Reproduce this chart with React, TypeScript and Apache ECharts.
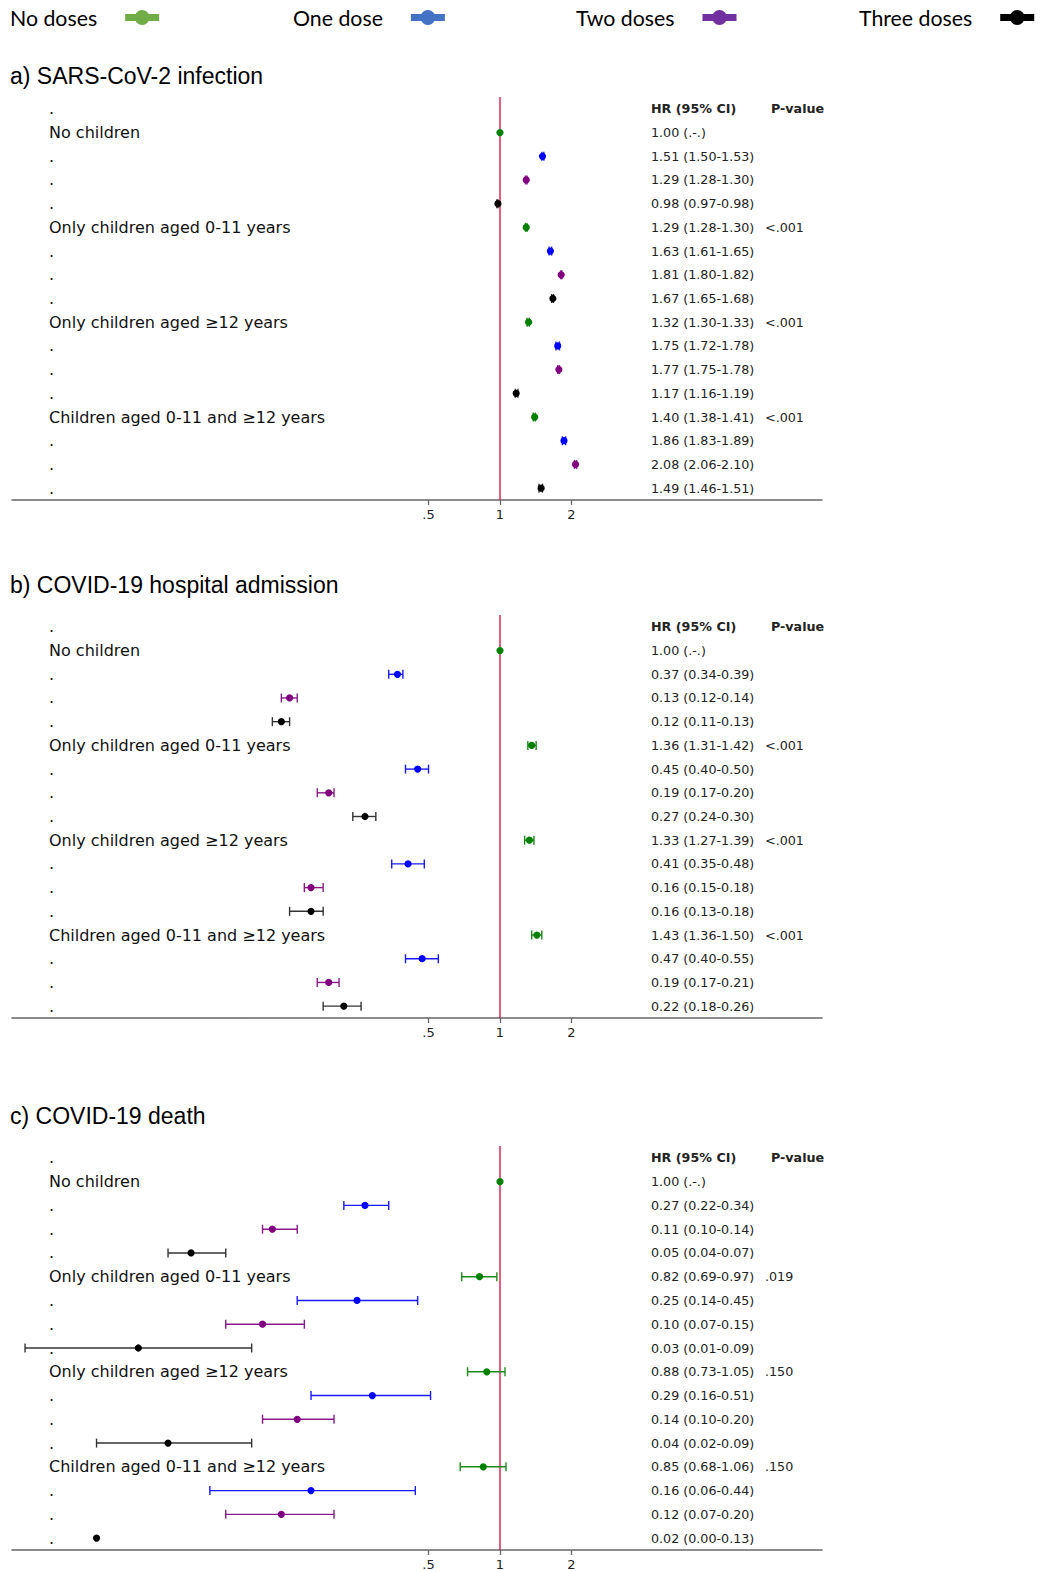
import { useEffect, useRef } from 'react';
import * as echarts from 'echarts';

// ---------- data ----------
const doseNames = ['No doses', 'One dose', 'Two doses', 'Three doses'];
const legendColors = ['#70ad47', '#4472c4', '#7030a0', '#000000'];
const markerColors = ['#008000', '#0000ff', '#800080', '#000000'];
const whiskerColors = ['#1a8a1a', '#1a1aff', '#8a1a8a', '#333333'];
const groupLabels = [
  'No children',
  'Only children aged 0-11 years',
  'Only children aged ≥12 years',
  'Children aged 0-11 and ≥12 years',
];
const panelTitles = ['a) SARS-CoV-2 infection', 'b) COVID-19 hospital admission', 'c) COVID-19 death'];
const xTickValues = [0.5, 1, 2];
const xTickLabels = ['.5', '1', '2'];
const referenceHR = 1;

// order: group-major (4 groups), dose-minor (4 doses)
const infectionHR = [1.0, 1.51, 1.29, 0.98, 1.29, 1.63, 1.81, 1.67, 1.32, 1.75, 1.77, 1.17, 1.4, 1.86, 2.08, 1.49];
const infectionLo = [null, 1.5, 1.28, 0.97, 1.28, 1.61, 1.8, 1.65, 1.3, 1.72, 1.75, 1.16, 1.38, 1.83, 2.06, 1.46];
const infectionHi = [null, 1.53, 1.3, 0.98, 1.3, 1.65, 1.82, 1.68, 1.33, 1.78, 1.78, 1.19, 1.41, 1.89, 2.1, 1.51];
const infectionP = ['', '<.001', '<.001', '<.001'];

const hospitalHR = [1.0, 0.37, 0.13, 0.12, 1.36, 0.45, 0.19, 0.27, 1.33, 0.41, 0.16, 0.16, 1.43, 0.47, 0.19, 0.22];
const hospitalLo = [null, 0.34, 0.12, 0.11, 1.31, 0.4, 0.17, 0.24, 1.27, 0.35, 0.15, 0.13, 1.36, 0.4, 0.17, 0.18];
const hospitalHi = [null, 0.39, 0.14, 0.13, 1.42, 0.5, 0.2, 0.3, 1.39, 0.48, 0.18, 0.18, 1.5, 0.55, 0.21, 0.26];
const hospitalP = ['', '<.001', '<.001', '<.001'];

const deathHR = [1.0, 0.27, 0.11, 0.05, 0.82, 0.25, 0.1, 0.03, 0.88, 0.29, 0.14, 0.04, 0.85, 0.16, 0.12, 0.02];
const deathLo = [null, 0.22, 0.1, 0.04, 0.69, 0.14, 0.07, 0.01, 0.73, 0.16, 0.1, 0.02, 0.68, 0.06, 0.07, 0.0];
const deathHi = [null, 0.34, 0.14, 0.07, 0.97, 0.45, 0.15, 0.09, 1.05, 0.51, 0.2, 0.09, 1.06, 0.44, 0.2, 0.13];
const deathP = ['', '.019', '.150', '.150'];

const panels = [
  { hr: infectionHR, lo: infectionLo, hi: infectionHi, p: infectionP },
  { hr: hospitalHR, lo: hospitalLo, hi: hospitalHi, p: hospitalP },
  { hr: deathHR, lo: deathLo, hi: deathHi, p: deathP },
];

// ---------- layout ----------
const W = 1048;
const H = 1571;
const gridLeft = 12;
const gridWidth = 810;
const gridTops = [97, 615, 1146];
const gridHeights = [403, 403, 404];
const titleTops = [64, 573, 1104];
const legendLefts = [10, 293, 576, 859];
const xMin = 0.00881;
const xMax = 22.7;

const rowFont = 'DejaVu Sans';

const legendIcon =
  'path://M0,4 L34,4 L34,11 L0,11 Z M9.5,7.5 A7.5,7.5 0 1 1 24.5,7.5 A7.5,7.5 0 1 1 9.5,7.5 Z';

function fmt(v: number | null) {
  return v === null ? '.' : v.toFixed(2);
}

function makeRenderer(dot: string, whisker: string) {
  return (_params: any, api: any) => {
    const lo = api.value(0);
    const hi = api.value(1);
    const hr = api.value(2);
    const row = api.value(3);
    const c = api.coord([hr, row]);
    const children: any[] = [];
    if (lo > 0 && hi > 0) {
      const a = api.coord([lo, row]);
      const b = api.coord([hi, row]);
      const cap = 4.5;
      const st = { stroke: whisker, lineWidth: 1.4 };
      children.push({ type: 'line', shape: { x1: a[0], y1: c[1], x2: b[0], y2: c[1] }, style: st });
      children.push({ type: 'line', shape: { x1: a[0], y1: c[1] - cap, x2: a[0], y2: c[1] + cap }, style: st });
      children.push({ type: 'line', shape: { x1: b[0], y1: c[1] - cap, x2: b[0], y2: c[1] + cap }, style: st });
    }
    children.push({ type: 'circle', shape: { cx: c[0], cy: c[1], r: 3.6 }, style: { fill: dot } });
    return { type: 'group', children };
  };
}

function renderReference(params: any, api: any) {
  const pt = api.coord([api.value(0), api.value(1)]);
  const cs = params.coordSys;
  return {
    type: 'line',
    shape: { x1: pt[0], y1: cs.y, x2: pt[0], y2: cs.y + cs.height },
    style: { stroke: '#d81b4a', lineWidth: 1.4 },
  };
}

function buildOption() {
  const grid: any[] = [];
  const xAxis: any[] = [];
  const yAxis: any[] = [];
  const series: any[] = [];
  const title: any[] = [];

  panels.forEach((pan, pi) => {
    grid.push({ left: gridLeft, width: gridWidth, top: gridTops[pi], height: gridHeights[pi] });
    title.push({
      text: panelTitles[pi],
      left: 10,
      top: titleTops[pi],
      padding: 0,
      textStyle: { fontFamily: 'Liberation Sans', fontSize: 23, fontWeight: 'normal', color: '#000' },
    });
    xAxis.push({
      type: 'log',
      logBase: 2,
      gridIndex: pi,
      min: xMin,
      max: xMax,
      axisLine: { show: true, lineStyle: { color: '#666', width: 1.5 } },
      axisTick: { show: true, length: 5, customValues: xTickValues, lineStyle: { color: '#666', width: 1.3 } },
      axisLabel: {
        customValues: xTickValues,
        formatter: (v: number) => {
          const i = xTickValues.findIndex((t) => Math.abs(t - v) < 1e-9);
          return i >= 0 ? xTickLabels[i] : '';
        },
        fontFamily: rowFont,
        fontSize: 13,
        color: '#222',
        margin: 8,
      },
      splitLine: { show: false },
      minorTick: { show: false },
    });

    const leftLabels: string[] = ['.'];
    const hrLabels: any[] = [{ value: 'HR (95% CI)', textStyle: { fontWeight: 'bold' } }];
    const pLabels: any[] = [{ value: 'P-value', textStyle: { fontWeight: 'bold', padding: [0, 0, 0, 6] } }];
    for (let g = 0; g < 4; g++) {
      for (let d = 0; d < 4; d++) {
        const i = g * 4 + d;
        leftLabels.push(d === 0 ? groupLabels[g] : '.');
        const lo = pan.lo[i];
        const hi = pan.hi[i];
        hrLabels.push(
          lo === null || hi === null ? `${fmt(pan.hr[i])} (.-.)` : `${fmt(pan.hr[i])} (${fmt(lo)}-${fmt(hi)})`
        );
        pLabels.push(d === 0 ? pan.p[g] : ' ');
      }
    }
    const baseY = {
      type: 'category',
      gridIndex: pi,
      inverse: true,
      boundaryGap: true,
      axisLine: { show: false },
      axisTick: { show: false },
      splitLine: { show: false },
    };
    const leftIdx = yAxis.length;
    yAxis.push({
      ...baseY,
      position: 'left',
      data: leftLabels,
      axisLabel: {
        inside: true,
        margin: 37,
        interval: 0,
        fontFamily: rowFont,
        fontSize: 16,
        color: '#111',
        align: 'left',
      },
    });
    yAxis.push({
      ...baseY,
      position: 'right',
      offset: -171,
      data: hrLabels,
      axisLabel: { margin: 0, interval: 0, fontFamily: rowFont, fontSize: 12.7, color: '#222', align: 'left' },
    });
    yAxis.push({
      ...baseY,
      position: 'right',
      offset: -57,
      data: pLabels,
      axisLabel: { margin: 0, interval: 0, fontFamily: rowFont, fontSize: 12.7, color: '#222', align: 'left' },
    });

    series.push({
      type: 'custom',
      name: 'reference',
      xAxisIndex: pi,
      yAxisIndex: leftIdx,
      encode: { x: 0, y: 1 },
      renderItem: renderReference,
      data: [[referenceHR, 0]],
      z: 1,
      silent: true,
    });

    for (let d = 0; d < 4; d++) {
      const data: any[] = [];
      for (let g = 0; g < 4; g++) {
        const i = g * 4 + d;
        data.push([
          pan.lo[i] === null ? '-' : pan.lo[i],
          pan.hi[i] === null ? '-' : pan.hi[i],
          pan.hr[i],
          1 + g * 4 + d,
        ]);
      }
      series.push({
        type: 'custom',
        name: doseNames[d],
        xAxisIndex: pi,
        yAxisIndex: leftIdx,
        encode: { x: 2, y: 3 },
        itemStyle: { color: markerColors[d] },
        renderItem: makeRenderer(markerColors[d], whiskerColors[d]),
        data,
        z: 3,
      });
    }
  });

  const legend = doseNames.map((name, d) => ({
    left: legendLefts[d],
    top: 7,
    align: 'right',
    selectedMode: false,
    itemWidth: 34,
    itemHeight: 15,
    padding: 0,
    textStyle: { fontFamily: 'Lato', fontSize: 21.3, color: '#000', padding: [0, 23, 0, 0] },
    data: [{ name, icon: legendIcon, itemStyle: { color: legendColors[d], borderWidth: 0 } }],
  }));

  return {
    animation: false,
    backgroundColor: '#fff',
    title,
    legend,
    grid,
    xAxis,
    yAxis,
    series,
  };
}

export default function App() {
  const ref = useRef<HTMLDivElement>(null);
  useEffect(() => {
    if (!ref.current) return;
    const chart = echarts.init(ref.current, null, { renderer: 'svg' });
    chart.setOption(buildOption() as any);
    return () => chart.dispose();
  }, []);
  return (
    <div
      ref={ref}
      style={{ position: 'absolute', left: 0, top: 0, width: W, height: H, background: '#fff' }}
    />
  );
}
